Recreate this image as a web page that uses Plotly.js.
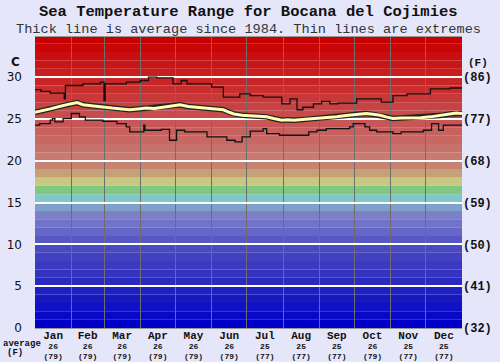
<!DOCTYPE html>
<html>
<head>
<meta charset="utf-8">
<script src="https://cdn.plot.ly/plotly-3.0.1.min.js"></script>
<style>html,body{margin:0;padding:0;background:#e6e6fa;}</style>
</head>
<body>
<div id="chart" style="width:500px;height:362px;"></div>
<script>
// ---- data ----
const months = ["Jan","Feb","Mar","Apr","May","Jun","Jul","Aug","Sep","Oct","Nov","Dec"];
const monthAvgC = [26,26,26,26,26,26,25,25,25,26,25,25];
const monthAvgF = [79,79,79,79,79,79,77,77,77,79,77,77];
const monthMid = [15.5,45,74.5,105,135.5,166,196.5,227.5,258,288.5,319,349.5];
const monthStart = [31,59,90,120,151,181,212,243,273,304,334];

const yTicksC = [0,5,10,15,20,25,30];
const yTicksF = ["(32)","(41)","(50)","(59)","(68)","(77)","(86)"];

const bandLow = [];
for (let i = 0; i < 35; i++) bandLow.push(i);
const bandColors = [
 "#0000c8","#0808c8","#1010c4","#1818c0","#2020c0","#2a2ac0","#3333c0","#3a3ac0","#4242c0","#4a4ac0",
 "#5858c4","#6666c8","#7272c8","#7c80c8","#7fa0c8","#80c8c8","#80c880","#c8c880","#c8a078","#c88272",
 "#c87a70","#c8706a","#c86864","#c8605e","#c85656","#c84c4c","#c84242","#c83838","#c82e2e","#c82626",
 "#c81e1e","#c81616","#c80e0e","#c80606","#c80000"
];

const maxDays  = [0,5,13,25,26,41,56,59,60,78,90,97,104,118,125,130,151,161,175,184,195,211,218,224,229,238,245,252,259,275,296,306,318,338,355,365];
const maxTemps = [28.5,28.3,28.1,27.4,29.0,29.2,29.4,27.2,29.2,29.4,29.6,30.0,29.9,29.2,29.6,29.2,28.8,27.6,28.0,27.8,27.6,26.8,27.4,26.1,26.4,26.8,27.1,26.8,26.9,27.4,27.0,27.8,28.0,28.6,28.7,28.7];

const minDays  = [0,4,13,15,17,24,31,38,43,58,70,78,81,93,94,108,115,121,128,147,164,171,177,184,195,198,209,234,241,249,269,272,282,286,292,306,313,332,339,345,349,365];
const minTemps = [24.25,24.45,24.85,25.05,24.65,25.05,25.65,25.25,24.85,24.7,24.45,24.05,23.45,24.25,23.65,23.75,22.45,23.65,23.45,22.85,22.45,22.25,22.85,23.55,23.85,23.25,23.05,23.45,23.65,23.85,24.05,24.45,24.05,23.65,23.45,23.25,23.45,23.65,24.45,23.65,24.25,24.25];

const avgDays  = [0,6,13,20,24,30,36,41,50,58,66,74,81,88,95,102,110,117,124,131,138,145,151,156,161,166,170,177,184,191,198,204,211,216,221,231,241,249,258,266,275,283,289,295,300,306,313,321,330,338,346,355,360,365];
const avgTemps = [25.8,25.95,26.2,26.45,26.6,26.8,26.95,26.7,26.55,26.4,26.3,26.2,26.1,26.2,26.3,26.25,26.4,26.5,26.7,26.5,26.4,26.35,26.3,26.2,26.1,25.8,25.6,25.45,25.4,25.35,25.25,25.05,24.85,24.9,24.85,24.95,25.05,25.1,25.25,25.4,25.55,25.65,25.55,25.45,25.25,25.05,25.1,25.1,25.15,25.25,25.4,25.6,25.7,25.65];

// ---- build ----
const mono = "Liberation Mono, Courier New, monospace";
const tickText = months.map((m,i)=>'<span style="font-size:11px"><b>'+m+'</b></span><br><b>'+monthAvgC[i]+'</b><br><b>('+monthAvgF[i]+')</b>');

const traces = [
  {x:maxDays, y:maxTemps, mode:'lines', line:{color:'#111', width:1.3, shape:'hv'}, hoverinfo:'skip'},
  {x:minDays, y:minTemps, mode:'lines', line:{color:'#111', width:1.3, shape:'hv'}, hoverinfo:'skip'},
  {x:avgDays, y:avgTemps, mode:'lines', line:{color:'#222', width:5.5}, hoverinfo:'skip'},
  {x:avgDays, y:avgTemps, mode:'lines', line:{color:'#ffffb4', width:3}, hoverinfo:'skip'},
  {x:[0], y:[0], yaxis:'y2', mode:'markers', marker:{opacity:0}, hoverinfo:'skip'}
];

const shapes = bandLow.map((lo,i)=>({type:'rect', layer:'below', xref:'paper', x0:0, x1:1, yref:'y', y0:lo, y1:lo+1, fillcolor:bandColors[i], line:{width:0}}));

const yRange = [0,34.8];
const layout = {
  width:500, height:362,
  margin:{l:35, r:38, t:37, b:34},
  paper_bgcolor:'#e6e6fa', plot_bgcolor:'#e6e6fa',
  showlegend:false,
  shapes: shapes,
  xaxis:{range:[0,365], tickmode:'array', tickvals:monthMid, ticktext:tickText, showgrid:false, zeroline:false, ticks:'',
         tickfont:{family:mono, size:8, color:'#111'},
         minor:{tickmode:'array', tickvals:monthStart, showgrid:true, gridcolor:'#6e6e6e', gridwidth:1, ticks:''},
         showline:true, linecolor:'#999', linewidth:1, mirror:true, fixedrange:true},
  yaxis:{range:yRange, tickmode:'array', tickvals:yTicksC, ticktext:yTicksC.map(String), showgrid:true, gridcolor:'#ffffff', gridwidth:2,
         zeroline:false, ticks:'', ticklabelstandoff:12, tickfont:{family:'DejaVu Sans, sans-serif', size:12, color:'#111'}, showline:false, fixedrange:true},
  yaxis2:{range:yRange, overlaying:'y', side:'right', tickmode:'array', tickvals:yTicksC, ticktext:yTicksF, showgrid:false, zeroline:false,
          ticks:'', tickfont:{family:mono, size:12, color:'#111', weight:'bold'}, showline:false, fixedrange:true},
  annotations:[
    {xref:'paper', yref:'paper', x:0.5, y:1, yshift:25, xanchor:'center', yanchor:'middle', showarrow:false,
     text:'<b>Sea Temperature Range for Bocana del Cojimies</b>', font:{family:mono, size:15.5, color:'#111'}},
    {xref:'paper', yref:'paper', x:0.5, y:1, yshift:8, xanchor:'center', yanchor:'middle', showarrow:false,
     text:'Thick line is average since 1984. Thin lines are extremes', font:{family:mono, size:13.6, color:'#333'}},
    {xref:'paper', yref:'paper', x:0, y:1, xshift:-20, yshift:-25, xanchor:'center', yanchor:'middle', showarrow:false,
     text:'<b>C</b>', font:{family:'DejaVu Sans, sans-serif', size:12, color:'#111'}},
    {xref:'paper', yref:'paper', x:1, y:1, xshift:16, yshift:-26, xanchor:'center', yanchor:'middle', showarrow:false,
     text:'<b>(F)</b>', font:{family:mono, size:11, color:'#111'}},
    {xref:'paper', yref:'paper', x:0, y:0, xshift:-13, yshift:-16, xanchor:'center', yanchor:'middle', showarrow:false,
     text:'<b>average</b>', font:{family:mono, size:9, color:'#111'}},
    {xref:'paper', yref:'paper', x:0, y:0, xshift:-20, yshift:-25, xanchor:'center', yanchor:'middle', showarrow:false,
     text:'<b>(F)</b>', font:{family:mono, size:9, color:'#111'}}
  ]
};

Plotly.newPlot('chart', traces, layout, {staticPlot:true, displayModeBar:false});
</script>
</body>
</html>
